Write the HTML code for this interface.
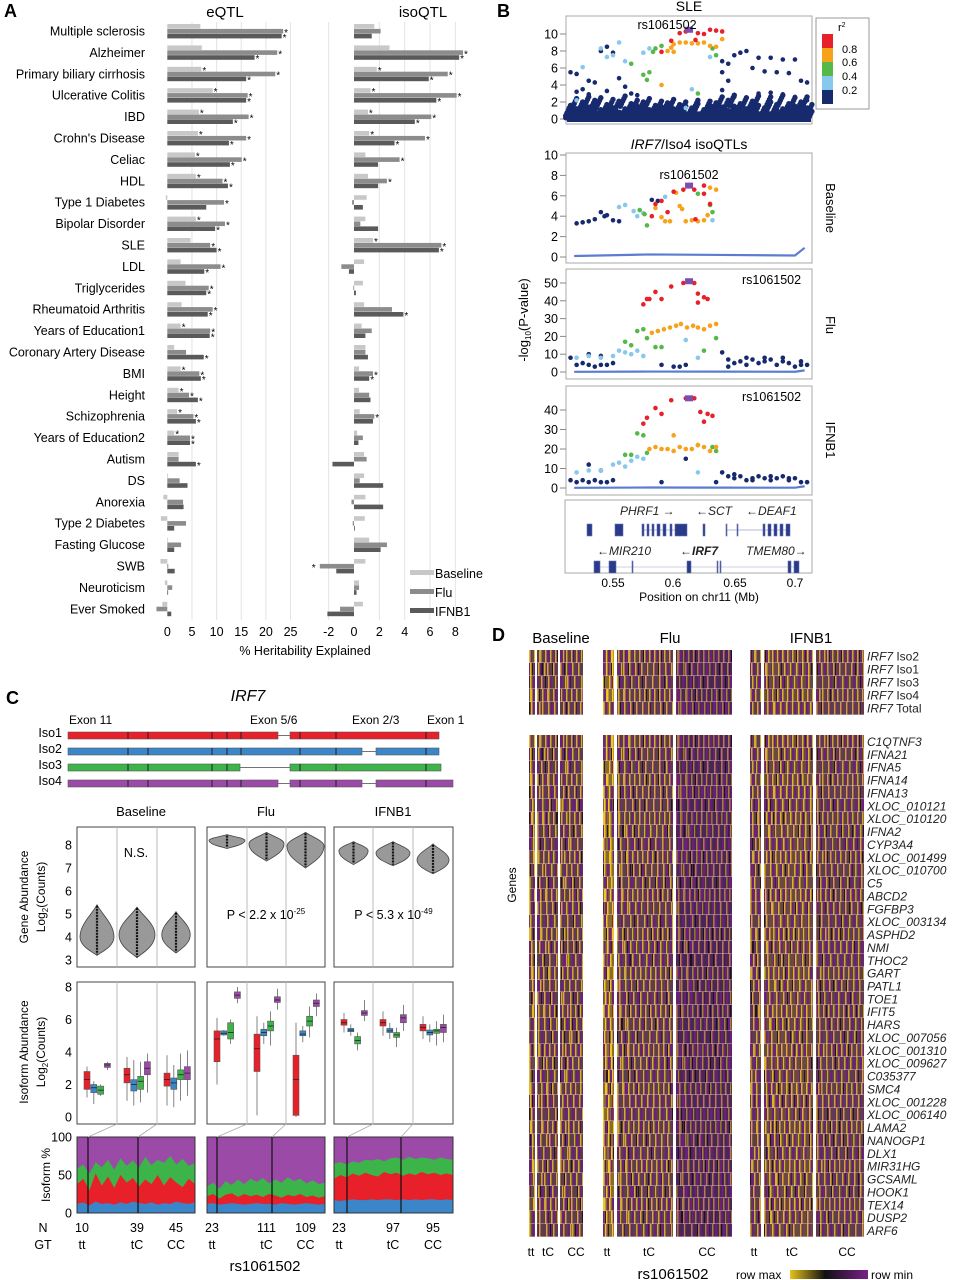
<!DOCTYPE html>
<html><head><meta charset="utf-8">
<style>
html,body{margin:0;padding:0;background:#fff;}
#wrap{position:relative;width:956px;height:1280px;overflow:hidden;font-family:"Liberation Sans",sans-serif;}
svg{position:absolute;left:0;top:0;}
.hm{position:absolute;}
.hrow{position:absolute;left:0;right:0;border-bottom:1px solid rgba(220,200,200,0.45);box-sizing:border-box;}
</style></head>
<body>
<div id="wrap">
<svg id="s" width="956" height="1280" viewBox="0 0 956 1280" font-family="Liberation Sans, sans-serif">
<text x="4" y="17" font-size="18" font-weight="bold">A</text>
<text x="225" y="17" font-size="15" text-anchor="middle">eQTL</text>
<text x="423" y="17" font-size="15" text-anchor="middle">isoQTL</text>
<text x="305" y="655" font-size="12.5" text-anchor="middle">% Heritability Explained</text>
<g id="gA"></g>
<g font-size="12.5">
<rect x="410" y="570" width="24" height="5" fill="#c8c8c8"/>
<text x="435" y="578">Baseline</text>
<rect x="410" y="589" width="24" height="5" fill="#8c8c8c"/>
<text x="435" y="597">Flu</text>
<rect x="410" y="608" width="24" height="5" fill="#5a5a5a"/>
<text x="435" y="616">IFNB1</text>
</g>

<text x="497" y="17" font-size="18" font-weight="bold">B</text>
<text x="689" y="11" font-size="14" text-anchor="middle">SLE</text>
<text x="689" y="149" font-size="14" text-anchor="middle"><tspan font-style="italic">IRF7</tspan>/Iso4 isoQTLs</text>
<text transform="translate(528,320) rotate(-90)" font-size="13" text-anchor="middle">-log<tspan font-size="8" dy="3">10</tspan><tspan dy="-3">(P-value)</tspan></text>
<text transform="translate(826,208) rotate(90)" font-size="13" text-anchor="middle">Baseline</text>
<text transform="translate(826,325) rotate(90)" font-size="13" text-anchor="middle">Flu</text>
<text transform="translate(826,440) rotate(90)" font-size="13" text-anchor="middle">IFNB1</text>
<g id="gB"></g>
<g>
<rect x="816" y="18" width="53" height="91" fill="#fff" stroke="#999"/>
<text x="838" y="31" font-size="11">r<tspan font-size="7" dy="-4">2</tspan></text>
<rect x="822" y="34" width="11" height="14" fill="#e8202a"/>
<rect x="822" y="48" width="11" height="14" fill="#f7a21b"/>
<rect x="822" y="62" width="11" height="14" fill="#55b848"/>
<rect x="822" y="76" width="11" height="14" fill="#87c8ec"/>
<rect x="822" y="90" width="11" height="14" fill="#172a6e"/>
<g font-size="11"><text x="842" y="53">0.8</text><text x="842" y="66">0.6</text><text x="842" y="80">0.4</text><text x="842" y="94">0.2</text></g>
</g>
<g>
<rect x="565" y="500" width="247" height="73" fill="none" stroke="#aaa"/>
<g font-size="12" font-style="italic" fill="#222">
<text x="620" y="515">PHRF1 →</text>
<text x="696" y="515">←SCT</text>
<text x="746" y="515">←DEAF1</text>
<text x="597" y="555">←MIR210</text>
<text x="680" y="555" font-weight="bold">←IRF7</text>
<text x="746" y="555">TMEM80→</text>
</g>
<g id="gExon" fill="#2a3a8a" stroke="#6a74b0" stroke-width="0.6"></g>
</g>
<g font-size="12" text-anchor="middle">
<text x="613" y="587">0.55</text>
<text x="673" y="587">0.6</text>
<text x="735" y="587">0.65</text>
<text x="795" y="587">0.7</text>
<text x="699" y="601" font-size="12">Position on chr11 (Mb)</text>
</g>

<text x="6" y="704" font-size="18" font-weight="bold">C</text>
<text x="248" y="701" font-size="16" font-style="italic" text-anchor="middle">IRF7</text>
<g font-size="12">
<text x="69" y="724">Exon 11</text>
<text x="250" y="724">Exon 5/6</text>
<text x="352" y="724">Exon 2/3</text>
<text x="427" y="724">Exon 1</text>
</g>
<g font-size="12.5" text-anchor="end">
<text x="62" y="737">Iso1</text>
<text x="62" y="753">Iso2</text>
<text x="62" y="769">Iso3</text>
<text x="62" y="785">Iso4</text>
</g>
<g id="gIso"></g>
<g font-size="13" text-anchor="middle">
<text x="141" y="816">Baseline</text>
<text x="266" y="816">Flu</text>
<text x="393" y="816">IFNB1</text>
</g>
<text transform="translate(28,897) rotate(-90)" font-size="12" text-anchor="middle">Gene Abundance</text>
<text transform="translate(45,897) rotate(-90)" font-size="12" text-anchor="middle">Log<tspan font-size="8" dy="3">2</tspan><tspan dy="-3">(Counts)</tspan></text>
<text transform="translate(28,1052) rotate(-90)" font-size="12" text-anchor="middle">Isoform Abundance</text>
<text transform="translate(45,1052) rotate(-90)" font-size="12" text-anchor="middle">Log<tspan font-size="8" dy="3">2</tspan><tspan dy="-3">(Counts)</tspan></text>
<text transform="translate(50,1175) rotate(-90)" font-size="12" text-anchor="middle">Isoform %</text>
<g id="gC"></g>
<g font-size="12.5" text-anchor="middle">
<text x="43" y="1232">N</text>
<text x="43" y="1249">GT</text>
</g>
<g id="gN" font-size="12.5" text-anchor="middle"></g>
<text x="265" y="1271" font-size="15" text-anchor="middle">rs1061502</text>

<text x="492" y="641" font-size="18" font-weight="bold">D</text>
<g font-size="15" text-anchor="middle">
<text x="561" y="643">Baseline</text>
<text x="670" y="643">Flu</text>
<text x="811" y="643">IFNB1</text>
</g>
<text transform="translate(516,885) rotate(-90)" font-size="12" text-anchor="middle">Genes</text>
<g id="gD" font-size="11.5" font-style="italic" fill="#222"></g>
<g font-size="12" text-anchor="middle" id="gDgt"></g>
<text x="673" y="1279" font-size="15" text-anchor="middle">rs1061502</text>
<defs><linearGradient id="rowg" x1="0" x2="1"><stop offset="0" stop-color="#e8c21a"/><stop offset="0.45" stop-color="#111"/><stop offset="1" stop-color="#7a1f8a"/></linearGradient></defs>
<text x="736" y="1279" font-size="12">row max</text>
<rect x="790" y="1270" width="78" height="9" fill="url(#rowg)"/>
<text x="871" y="1279" font-size="12">row min</text>
</svg>
<div id="heat"></div>
</div>

<script>
const NS='http://www.w3.org/2000/svg';
function mk(parent,tag,attrs){const e=document.createElementNS(NS,tag);for(const k in attrs)e.setAttribute(k,attrs[k]);parent.appendChild(e);return e;}

const traits=["Multiple sclerosis","Alzheimer","Primary biliary cirrhosis","Ulcerative Colitis","IBD","Crohn's Disease","Celiac","HDL","Type 1 Diabetes","Bipolar Disorder","SLE","LDL","Triglycerides","Rheumatoid Arthritis","Years of Education1","Coronary Artery Disease","BMI","Height","Schizophrenia","Years of Education2","Autism","DS","Anorexia","Type 2 Diabetes","Fasting Glucose","SWB","Neuroticism","Ever Smoked"];
const eqtlBaseline=[6.7,7.0,6.9,9.2,6.4,6.2,5.6,5.8,-0.3,5.8,4.7,2.7,3.7,2.9,2.7,1.4,2.7,2.3,2.0,1.4,2.3,0.1,-0.8,-1.3,0.1,-1.4,-0.5,-1.0];
const eqtlFlu=[23.5,22.3,21.9,16.3,16.5,16.0,15.1,11.2,11.5,11.7,8.7,10.8,8.4,9.2,8.7,3.8,6.5,4.4,5.3,4.6,2.3,2.5,3.2,3.8,2.8,0.2,1.0,-2.2];
const eqtlIfnb1=[23.2,17.7,16.0,16.0,13.3,12.5,12.7,12.3,7.9,9.7,10.0,7.5,7.9,8.2,8.6,7.4,6.8,6.2,5.8,4.6,5.8,4.1,3.3,1.4,1.4,1.5,0.1,0.8];
const isoBaseline=[1.6,2.8,1.8,1.3,1.1,1.2,0.9,1.1,1.0,0.9,1.5,0.8,0.7,0.8,0.6,0.9,0.4,0.4,0.45,0.25,0.8,0.8,0.9,0.85,1.2,0.9,0.4,0.7];
const isoFlu=[2.1,8.6,7.4,8.1,6.1,5.6,3.6,2.6,-0.15,0.5,6.9,-1.0,-0.05,3.0,1.4,0.9,1.5,1.2,1.6,0.7,1.0,0.45,-0.2,-0.1,2.6,-2.7,0.4,-1.1];
const isoIfnb1=[1.4,8.3,5.9,6.5,4.8,3.2,1.9,1.9,0.7,1.9,6.7,-0.4,0.15,3.9,0.9,1.1,1.2,1.3,1.5,0.35,-1.7,2.3,2.3,0.0,2.1,-1.4,0.2,-2.1];
const eqtlStarB=[0,0,1,1,1,1,1,1,0,1,0,0,0,0,1,0,1,1,1,1,0,0,0,0,0,0,0,0];
const eqtlStarF=[1,1,1,1,1,1,1,1,1,1,1,1,1,1,1,0,1,1,1,1,0,0,0,0,0,0,0,0];
const eqtlStarI=[1,1,1,1,1,1,1,1,0,1,1,1,1,1,1,1,1,1,1,1,1,0,0,0,0,0,0,0];
const isoStarB=[0,0,1,1,1,1,0,0,0,0,1,0,0,0,0,0,0,0,0,0,0,0,0,0,0,0,0,0];
const isoStarF=[0,1,1,1,1,1,1,1,0,0,1,0,0,0,0,0,1,0,1,0,0,0,0,0,0,1,0,0];
const isoStarI=[0,1,1,1,1,1,0,0,0,0,1,0,0,1,0,0,1,0,0,0,0,0,0,0,0,0,0,0];
const eTicks=[0,5,10,15,20,25];
const iTicks=[-2,0,2,4,6,8];

const xE=v=>167.3+v*4.93, xI=v=>354+v*12.67, rowY=i=>31+i*21.4;
(function(){
  const g=document.getElementById('gA');
  eTicks.forEach(t=>{ if(t>0){const l=mk(g,'line',{x1:xE(t),x2:xE(t),y1:22,y2:620,stroke:'#e4e4e4','stroke-width':1});}
    const tx=mk(g,'text',{x:xE(t),y:636,'font-size':12.5,'text-anchor':'middle'});tx.textContent=t;});
  iTicks.forEach(t=>{ if(t!==0){const l=mk(g,'line',{x1:xI(t),x2:xI(t),y1:22,y2:620,stroke:'#e4e4e4','stroke-width':1});}
    const tx=mk(g,'text',{x:xI(t),y:636,'font-size':12.5,'text-anchor':'middle'});tx.textContent=t;});
  const cols=['#c8c8c8','#8c8c8c','#5a5a5a'];
  const eS=[eqtlBaseline,eqtlFlu,eqtlIfnb1], iS=[isoBaseline,isoFlu,isoIfnb1];
  const eSt=[eqtlStarB,eqtlStarF,eqtlStarI], iSt=[isoStarB,isoStarF,isoStarI];
  traits.forEach((t,i)=>{
    const yc=rowY(i);
    const lb=mk(g,'text',{x:145,y:yc+4.5,'font-size':12.5,'text-anchor':'end'});lb.textContent=t;
    
    for(let k=0;k<3;k++){
      const y=yc-7+k*4.9;
      [[eS,eSt,xE,'eqtl'],[iS,iSt,xI,'isoqtl']].forEach(([S,St,X,nm])=>{
        const v=S[k][i], x0=X(0), x1=X(v);
        const r=mk(g,'rect',{x:Math.min(x0,x1),y:y,width:Math.max(0.8,Math.abs(x1-x0)),height:4.6,fill:cols[k]});
        
        if(St[k][i]){const s=mk(g,'text',{x:v>=0?x1+1:x1-8,y:y+7,'font-size':10});s.textContent='*';
          }
      });
    }
  });
})();

const r2Colors=['#172a6e','#87c8ec','#55b848','#f7a21b','#e8202a'];
const sleBandPos=[0.513,0.518,0.523,0.528,0.533,0.538,0.543,0.548,0.553,0.558,0.563,0.568,0.573,0.578,0.583,0.588,0.593,0.598,0.603,0.608,0.613,0.618,0.623,0.628,0.633,0.638,0.643,0.648,0.653,0.658,0.663,0.668,0.673,0.678,0.683,0.688,0.693,0.698,0.703,0.708,0.712];
const sleBandVal1=[1.0,0.6,1.4,0.8,1.6,0.5,1.1,0.7,1.5,0.6,1.2,0.9,1.4,0.5,1.0,0.8,1.3,0.6,1.1,0.9,0.7,1.2,0.5,1.0,1.3,0.8,1.6,0.9,1.2,0.6,1.5,1.0,0.7,1.4,1.1,0.6,1.2,0.9,1.4,0.7,1.1];
const sleBandVal2=[0.3,1.8,0.4,2.0,0.3,1.9,0.4,1.7,0.2,2.1,0.4,1.6,0.3,1.8,0.5,1.5,0.3,1.7,0.4,1.4,0.3,1.6,0.4,1.5,0.3,2.0,0.4,2.2,0.3,1.9,0.4,2.1,0.3,2.0,0.5,2.2,0.3,1.9,0.4,2.0,0.3];
const slePos=[0.515,0.52,0.525,0.53,0.535,0.54,0.545,0.55,0.555,0.56,0.565,0.57,0.53,0.52,0.545,0.64,0.645,0.65,0.655,0.66,0.665,0.67,0.675,0.68,0.685,0.69,0.695,0.7,0.705,0.71,0.64,0.645,0.65,0.66,0.67,0.68,0.69,0.7,0.71,0.64,
 0.54,0.545,0.55,0.555,0.56,0.575,0.58,0.52,0.525,0.615,0.61,0.63,
 0.565,0.575,0.578,0.58,0.583,0.585,0.59,0.632,0.635,0.62,
 0.59,0.595,0.6,0.6,0.605,0.61,0.615,0.62,0.625,0.63,0.635,0.64,0.598,
 0.59,0.598,0.605,0.61,0.62,0.625,0.63,0.635,0.64,0.618];
const sleVal=[5.5,5.3,3.5,4.5,4.3,8.0,8.5,7.8,4.8,3.8,3.0,2.8,2.9,3.2,3.3,6.8,6.5,7.5,7.8,8.0,6.0,7.2,5.6,7.2,5.5,7.0,5.4,7.0,4.5,4.3,5.5,4.5,2.6,2.5,3.0,3.1,2.9,2.6,2.2,3.4,
 8.3,7.3,7.5,9.0,6.8,7.8,8.3,2.2,6.1,3.5,1.3,7.3,
 6.5,5.2,4.6,5.5,7.9,8.3,8.6,8.3,7.5,3.0,
 4.0,8.0,7.9,8.8,9.0,9.0,8.9,8.9,9.0,8.6,8.5,9.4,8.4,
 7.9,9.2,10.1,10.3,10.1,10.0,10.5,10.4,10.3,9.3];
const sleCls=[0,0,0,0,0,0,0,0,0,0,0,0,0,0,0,0,0,0,0,0,0,0,0,0,0,0,0,0,0,0,0,0,0,0,0,0,0,0,0,0,
 1,1,1,1,1,1,1,1,1,1,1,1, 2,2,2,2,2,2,2,2,2,2, 3,3,3,3,3,3,3,3,3,3,3,3,3, 4,4,4,4,4,4,4,4,4,4];
const basePos=[0.52,0.525,0.53,0.535,0.54,0.543,0.545,0.55,0.555,0.582,0.587, 0.555,0.56,0.567,0.57,0.575,0.593,0.632, 0.572,0.576,0.578,0.62,0.63,0.632,
 0.585,0.59,0.593,0.597,0.602,0.605,0.607,0.61,0.615,0.62,0.625,0.628,0.635,0.63, 0.582,0.585,0.59,0.595,0.6,0.608,0.617,0.625,0.63,0.618,0.625];
const baseVal=[3.3,3.4,3.5,3.7,4.4,4.0,4.1,3.6,3.5,5.6,5.5, 4.9,5.1,4.5,4.0,4.3,5.9,3.6, 4.6,4.2,3.1,6.2,5.1,4.4,
 4.8,3.9,3.5,3.5,6.3,5.0,4.7,3.5,3.6,3.5,3.6,4.1,6.6,6.8, 4.0,5.2,5.5,4.4,6.4,6.6,6.6,7.0,5.2,3.7,6.2];
const baseCls=[0,0,0,0,0,0,0,0,0,0,0, 1,1,1,1,1,1,1, 2,2,2,2,2,2, 3,3,3,3,3,3,3,3,3,3,3,3,3,3, 4,4,4,4,4,4,4,4,4,4,4];
const fluPos=[0.515,0.52,0.525,0.53,0.535,0.54,0.545,0.55,0.53,0.54,0.59,0.6,0.605,0.61,0.64,0.645,0.65,0.655,0.66,0.665,0.67,0.675,0.68,0.685,0.69,0.695,0.7,0.705,0.71,0.645,0.66,0.675,0.69,0.705,
 0.52,0.53,0.54,0.55,0.555,0.56,0.565,0.57,0.575,0.61,0.62,
 0.57,0.575,0.578,0.56,0.565,0.585,0.59,0.625,0.635,
 0.582,0.587,0.592,0.597,0.602,0.606,0.611,0.616,0.62,0.625,0.63,0.635,
 0.575,0.578,0.58,0.585,0.59,0.598,0.608,0.613,0.617,0.62,0.625,0.628,0.62];
const fluVal=[8,4,5,4,3,4,4,5,10,9,4,3,3,4,11,7,5,6,4,7,5,6,7,4,6,5,3,6,4,3,8,8,8,4,
 8,9,8,9,12,11,10,12,9,18,8,
 23,24,19,17,15,14,14,12,19,
 22,23,24,25,26,27,25,26,25,24,26,27,
 38,41,41,45,41,48,50,51,50,44,42,41,39];
const fluCls=[0,0,0,0,0,0,0,0,0,0,0,0,0,0,0,0,0,0,0,0,0,0,0,0,0,0,0,0,0,0,0,0,0,0, 1,1,1,1,1,1,1,1,1,1,1, 2,2,2,2,2,2,2,2,2, 3,3,3,3,3,3,3,3,3,3,3,3, 4,4,4,4,4,4,4,4,4,4,4,4,4];
const ifnPos=[0.515,0.52,0.525,0.53,0.535,0.54,0.545,0.55,0.53,0.54,0.59,0.61,0.635,0.64,0.645,0.65,0.655,0.66,0.665,0.67,0.675,0.68,0.685,0.69,0.695,0.7,0.705,0.71,0.65,0.665,0.68,0.695,
 0.52,0.53,0.54,0.55,0.555,0.56,0.565,0.57,0.575,0.62,
 0.57,0.575,0.578,0.56,0.565,0.62,0.632,0.635,
 0.58,0.585,0.59,0.595,0.6,0.605,0.61,0.615,0.62,0.625,0.63,0.635,0.6,
 0.575,0.578,0.585,0.59,0.598,0.61,0.613,0.617,0.622,0.625,0.628,0.632];
const ifnVal=[4,3,4,3,4,3,3,4,12,9,3,15,3,8,6,5,6,4,5,6,5,4,5,6,4,5,3,3,7,4,6,5,
 8,9,9,12,13,11,14,16,15,8,
 28,27,18,17,17,22,21,19,
 20,21,20,20,19,21,20,20,22,21,19,21,27,
 33,36,41,38,45,46,46,46,39,34,38,37];
const ifnCls=[0,0,0,0,0,0,0,0,0,0,0,0,0,0,0,0,0,0,0,0,0,0,0,0,0,0,0,0,0,0,0,0, 1,1,1,1,1,1,1,1,1,1, 2,2,2,2,2,2,2,2, 3,3,3,3,3,3,3,3,3,3,3,3,3, 4,4,4,4,4,4,4,4,4,4,4,4];
const sleTicks=[0,2,4,6,8,10], baseTicks=[0,2,4,6,8,10], fluTicks=[0,10,20,30,40,50], ifnTicks=[0,10,20,30,40];
const leadSnp=0.6127;
const xMb=mb=>613+(mb-0.55)*1213;

(function(){
  const g=document.getElementById('gB');
  const panels=[
    {n:'sle',top:16,bot:124,y0:119,ppu:8.5,ticks:sleTicks,band:true,pos:slePos,val:sleVal,cls:sleCls,lab:[667,29],anchor:'middle',thr:false},
    {n:'baseline',top:153,bot:263,y0:257,ppu:10.2,ticks:baseTicks,pos:basePos,val:baseVal,cls:baseCls,lab:[689,179],anchor:'middle',thr:true},
    {n:'flu',top:269,bot:379,y0:372,ppu:1.78,ticks:fluTicks,pos:fluPos,val:fluVal,cls:fluCls,lab:[742,284],anchor:'start',thr:true},
    {n:'ifnb1',top:386,bot:495,y0:488,ppu:1.95,ticks:ifnTicks,pos:ifnPos,val:ifnVal,cls:ifnCls,lab:[742,401],anchor:'start',thr:true}];
  panels.forEach(p=>{
    const b=mk(g,'rect',{x:566,y:p.top,width:246,height:p.bot-p.top,fill:'#fff',stroke:'#aaa'});
    
    const Y=v=>p.y0-v*p.ppu;
    p.ticks.forEach(t=>{const tx=mk(g,'text',{x:558,y:Y(t)+4.5,'font-size':12.5,'text-anchor':'end'});tx.textContent=t;
      
      mk(g,'line',{x1:560,x2:566,y1:Y(t),y2:Y(t),stroke:'#888'});});
    if(p.thr){const l=mk(g,'path',{d:`M${xMb(0.518)},${Y(0.1)} L${xMb(0.58)},${Y(0.25)} L${xMb(0.64)},${Y(0.2)} L${xMb(0.7)},${Y(0.15)} L${xMb(0.708)},${Y(0.9)}`,fill:'none',stroke:'#5b7ccf','stroke-width':2.2});
      }
    if(p.band){[sleBandVal1,sleBandVal2].forEach(arr=>arr.forEach((v,i)=>{
      for(let d=-2;d<=2;d++){const c=mk(g,'circle',{cx:xMb(sleBandPos[i])+d*1.2,cy:Y(Math.max(0.15,v+d*0.3)),r:2.7,fill:'#172a6e'});
      }}));
      const bb=mk(g,'rect',{x:567,y:Y(0.9),width:244,height:Y(0)-Y(0.9)+3,fill:'#172a6e'});
      }
    p.pos.forEach((mb,i)=>{const c=mk(g,'circle',{cx:xMb(mb),cy:Y(p.val[i]),r:2.3,fill:r2Colors[p.cls[i]]});
      });
    const peak=Math.max(...p.val);
    const d=mk(g,'rect',{x:xMb(leadSnp)-4,y:Y(peak)-3,width:8,height:6,fill:'#7a4fb0'});
    
    const lt=mk(g,'text',{x:p.lab[0],y:p.lab[1],'font-size':12.5,'text-anchor':p.anchor});lt.textContent='rs1061502';
    
  });
  const ge=document.getElementById('gExon');
  const topEx=[[587,592],[615,623],[642,644],[647,649],[652,654],[657,660],[663,666],[670,672],[675,687],[703,705],[726,727],[737,738],[763,765],[768,771],[774,777],[780,783],[786,790]];
  const botEx=[[594,600],[609,616],[632,633],[687,691],[717,718],[720,721],[788,791],[794,799]];
  mk(ge,'line',{x1:642,x2:687,y1:530,y2:530,stroke:'#6a74b0'});mk(ge,'line',{x1:726,x2:790,y1:530,y2:530,stroke:'#6a74b0'});
  mk(ge,'line',{x1:594,x2:799,y1:567,y2:567,stroke:'#9aa0c8'});
  topEx.forEach(e=>{const r=mk(ge,'rect',{x:e[0],y:524,width:e[1]-e[0],height:12});});
  botEx.forEach(e=>{const r=mk(ge,'rect',{x:e[0],y:561,width:e[1]-e[0],height:12});});
})();

const isoColors=['#e8202a','#3a86c8','#3cb44a','#9b4aa8'];
const isoNames=['Iso1','Iso2','Iso3','Iso4'];
const conditions=['Baseline','Flu','IFNB1'];
const genotypes=['tt','tC','CC'];
const sampleN=[[10,39,45],[23,111,109],[23,97,95]];
const violinMid=[[4.0,4.1,4.1],[8.2,8.05,7.95],[7.75,7.65,7.35]];
const violinMin=[[3.2,3.1,3.3],[7.85,7.3,7.0],[7.15,7.1,6.75]];
const violinMax=[[5.4,5.3,5.1],[8.45,8.55,8.55],[8.15,8.15,8.05]];
const violinWidth=[[0.85,0.9,0.75],[0.9,0.9,0.95],[0.75,0.85,0.8]];
const violinTicks=[3,4,5,6,7,8];
const pvalText=['N.S.','P < 2.2 x 10','P < 5.3 x 10'];
const pvalExp=['','-25','-49'];
const boxMed=[[[2.3,1.8,1.65,3.2],[2.6,2.0,2.2,3.0],[2.3,2.1,2.6,2.7]],[[4.8,5.15,5.2,7.5],[4.2,5.2,5.6,7.2],[2.3,5.1,5.9,7.0]],[[5.8,5.35,4.7,6.4],[5.8,5.3,5.05,6.1],[5.5,5.2,5.3,5.5]]];
const boxQ1=[[[1.7,1.5,1.4,3.05],[2.1,1.6,1.7,2.6],[1.9,1.7,2.3,2.3]],[[3.4,5.05,4.8,7.3],[2.8,5.0,5.3,7.05],[0.1,5.0,5.6,6.8]],[[5.65,5.25,4.5,6.25],[5.6,5.2,4.9,5.8],[5.3,5.05,5.15,5.2]]];
const boxQ3=[[[2.8,2.0,1.9,3.3],[3.0,2.3,2.5,3.4],[2.7,2.4,2.9,3.1]],[[5.3,5.3,5.8,7.7],[5.1,5.4,5.9,7.4],[3.8,5.3,6.2,7.2]],[[6.0,5.45,4.95,6.55],[6.0,5.45,5.2,6.3],[5.7,5.35,5.4,5.7]]];
const boxLo=[[[1.2,0.8,1.3,2.9],[1.0,0.7,0.9,1.5],[0.7,0.6,1.0,1.3]],[[2.0,5.0,4.5,7.0],[0.1,4.5,4.4,6.6],[0.0,4.6,4.9,6.2]],[[5.2,5.0,4.1,5.9],[5.0,4.8,4.3,5.3],[4.8,4.6,4.4,4.6]]];
const boxHi=[[[3.1,2.2,2.0,3.4],[3.7,3.5,3.4,3.9],[3.8,3.2,3.9,4.1]],[[6.1,5.35,6.0,8.0],[6.2,5.8,6.5,7.9],[5.8,5.6,6.8,7.6]],[[6.4,5.7,5.2,7.2],[6.5,5.8,5.5,6.9],[6.2,5.7,5.9,6.3]]];
const boxTicks=[0,2,4,6,8];
const stackBlue=[[12,14,10,15,12,13,11,14,12,15,13,12,14,11,13,12,15,13,12,14],[12,13,11,12,13,12,11,12,13,12,12,11,13,12,11,12,13,12,11,12],[17,16,17,18,17,17,18,17,18,18,17,18,17,18,17,18,18,17,18,17]];
const stackRed=[[38,45,30,52,36,48,33,50,40,46,35,44,38,50,36,47,40,34,45,38],[22,25,19,24,26,21,25,22,24,21,25,23,20,24,22,25,21,23,20,22],[45,50,47,52,49,53,50,48,54,51,53,49,52,50,54,51,53,50,52,50]];
const stackGreen=[[58,64,52,67,60,70,57,72,62,69,60,74,63,70,66,75,64,71,62,66],[35,40,32,42,37,44,38,45,41,46,39,44,40,47,42,45,39,43,38,40],[65,67,64,68,66,70,69,71,68,72,73,70,74,71,73,72,70,73,71,70]];
const panelsX=[[77,195],[207,325],[334,453]];
const genoSplit=[[117,157],[247,286],[373,413]];
const stackSplit=[[88,138],[217,272],[347,401]];

(function(){
  const gi=document.getElementById('gIso');
  const isoSegs=[[[68,278],[290,439]],[[68,362],[376,439]],[[68,240],[290,441]],[[68,278],[290,362],[376,453]]];
  const dividers=[128,148,212,227,241,300,336,426];
  isoSegs.forEach((segs,k)=>{
    const y=732+k*16;
    mk(gi,'line',{x1:segs[0][0],x2:segs[segs.length-1][1],y1:y+3.5,y2:y+3.5,stroke:'#444','stroke-width':0.8});
    segs.forEach(s=>{const r=mk(gi,'rect',{x:s[0],y:y,width:s[1]-s[0],height:7,fill:isoColors[k],stroke:'#555','stroke-width':0.6});
      
      dividers.forEach(d=>{if(d>s[0]+1&&d<s[1]-1)mk(gi,'line',{x1:d,x2:d,y1:y,y2:y+7,stroke:'#222','stroke-width':1});});});
  });
  const g=document.getElementById('gC');
  const yV=v=>845-(v-8)*23, yB=v=>1117-v*16.25;
  panelsX.forEach((px,c)=>{
    const [x0,x1]=px;
    const f1=mk(g,'rect',{x:x0,y:827,width:x1-x0,height:140,fill:'#fff',stroke:'#444'});
    
    const f2=mk(g,'rect',{x:x0,y:982,width:x1-x0,height:142,fill:'#fff',stroke:'#444'});
    
    genoSplit[c].forEach(sx=>{mk(g,'line',{x1:sx,x2:sx,y1:827,y2:967,stroke:'#bbb'});mk(g,'line',{x1:sx,x2:sx,y1:982,y2:1124,stroke:'#bbb'});});
    if(c===0){violinTicks.forEach(t=>{const tx=mk(g,'text',{x:72,y:yV(t)+4.5,'font-size':12.5,'text-anchor':'end'});tx.textContent=t;});
      boxTicks.forEach(t=>{const tx=mk(g,'text',{x:72,y:yB(t)+4.5,'font-size':12.5,'text-anchor':'end'});tx.textContent=t;});
      [0,50,100].forEach(t=>{const tx=mk(g,'text',{x:72,y:1213-t*0.76+4.5,'font-size':12.5,'text-anchor':'end'});tx.textContent=t;});}
    const edges=[x0,genoSplit[c][0],genoSplit[c][1],x1];
    for(let gt=0;gt<3;gt++){
      const cx=(edges[gt]+edges[gt+1])/2, hw=violinWidth[c][gt]*(edges[gt+1]-edges[gt])/2;
      const ym=yV(violinMid[c][gt]), yt=yV(violinMax[c][gt]), yb=yV(violinMin[c][gt]);
      const d=`M${cx},${yt} C${cx+hw*0.3},${yt+(ym-yt)*0.3} ${cx+hw},${ym-(ym-yt)*0.4} ${cx+hw},${ym} C${cx+hw},${ym+(yb-ym)*0.5} ${cx+hw*0.3},${yb-(yb-ym)*0.2} ${cx},${yb} C${cx-hw*0.3},${yb-(yb-ym)*0.2} ${cx-hw},${ym+(yb-ym)*0.5} ${cx-hw},${ym} C${cx-hw},${ym-(ym-yt)*0.4} ${cx-hw*0.3},${yt+(ym-yt)*0.3} ${cx},${yt}Z`;
      const v=mk(g,'path',{d:d,fill:'#999',stroke:'#444','stroke-width':0.8});
      
      const dl=mk(g,'line',{x1:cx,x2:cx,y1:yt+1,y2:yb-1,stroke:'#111','stroke-width':2.2,'stroke-dasharray':'2 1'});
      
      for(let k=0;k<4;k++){
        const bx=edges[gt]+10+k*6.8, w=6;
        const wl=mk(g,'line',{x1:bx,x2:bx,y1:yB(boxHi[c][gt][k]),y2:yB(boxLo[c][gt][k]),stroke:'#666','stroke-width':0.8});
        
        const r=mk(g,'rect',{x:bx-w/2,y:yB(boxQ3[c][gt][k]),width:w,height:Math.max(1,yB(boxQ1[c][gt][k])-yB(boxQ3[c][gt][k])),fill:isoColors[k],stroke:'#555','stroke-width':0.6});
        
        mk(g,'line',{x1:bx-w/2,x2:bx+w/2,y1:yB(boxMed[c][gt][k]),y2:yB(boxMed[c][gt][k]),stroke:'#222','stroke-width':0.8});
      }
      const nt=mk(document.getElementById('gN'),'text',{x:(gt===0?edges[0]+5:cx),y:1232});nt.textContent=sampleN[c][gt];
      
      const gtt=mk(document.getElementById('gN'),'text',{x:(gt===0?edges[0]+5:cx),y:1249});gtt.textContent=genotypes[gt];
      
    }
    const pt=mk(g,'text',{x:(x0+x1)/2,y:c===0?857:919,'font-size':12.5,'text-anchor':'middle'});
    pt.textContent=pvalText[c];if(pvalExp[c]){const ts=document.createElementNS(NS,'tspan');ts.setAttribute('font-size','8');ts.setAttribute('dy','-5');ts.textContent=pvalExp[c];pt.appendChild(ts);}
    
    const sy=v=>1213-v*0.76, n=stackBlue[c].length, sx=i=>x0+(x1-x0)*i/(n-1);
    const top=mk(g,'rect',{x:x0,y:1137,width:x1-x0,height:76,fill:'#9b4aa8'});
    
    const poly=(arr,col,nm)=>{let d=`M${x0},1213`;arr.forEach((v,i)=>{d+=` L${sx(i)},${sy(v)}`;});d+=` L${x1},1213Z`;
      const p=mk(g,'path',{d:d,fill:col});};
    poly(stackGreen[c],'#3cb44a','iso3-area');poly(stackRed[c],'#e8202a','iso1-area');poly(stackBlue[c],'#3a86c8','iso2-area');
    mk(g,'rect',{x:x0,y:1137,width:x1-x0,height:76,fill:'none',stroke:'#333'});
    stackSplit[c].forEach((s,j)=>{mk(g,'line',{x1:s,x2:s,y1:1137,y2:1213,stroke:'#111','stroke-width':1.2});
      mk(g,'line',{x1:s,x2:genoSplit[c][j],y1:1137,y2:1124,stroke:'#aaa','stroke-width':0.8});});
  });
})();

const heatGenes=["C1QTNF3","IFNA21","IFNA5","IFNA14","IFNA13","XLOC_010121","XLOC_010120","IFNA2","CYP3A4","XLOC_001499","XLOC_010700","C5","ABCD2","FGFBP3","XLOC_003134","ASPHD2","NMI","THOC2","GART","PATL1","TOE1","IFIT5","HARS","XLOC_007056","XLOC_001310","XLOC_009627","C035377","SMC4","XLOC_001228","XLOC_006140","LAMA2","NANOGP1","DLX1","MIR31HG","GCSAML","HOOK1","TEX14","DUSP2","ARF6"];
const irfRows=["Iso2","Iso1","Iso3","Iso4","Total"];
(function(){
  const g=document.getElementById('gD');
  irfRows.forEach((r,i)=>{const t=mk(g,'text',{x:867,y:656+i*13+4.5,'font-size':12});t.innerHTML='<tspan font-style="italic">IRF7</tspan><tspan font-style="normal"> '+r+'</tspan>';
    });
  const rh=502/heatGenes.length;
  heatGenes.forEach((n,i)=>{const t=mk(g,'text',{x:867,y:735+rh*i+rh/2+4.5,'font-size':12});t.textContent=n;
    });
  const gg=document.getElementById('gDgt');
  [[531,'tt'],[548,'tC'],[576,'CC'],[607,'tt'],[649,'tC'],[707,'CC'],[754,'tt'],[792,'tC'],[847,'CC']].forEach(a=>{
    const t=mk(gg,'text',{x:a[0],y:1256});t.textContent=a[1];});
  const heat=document.getElementById('heat');
  const blocks=[[529,535,'#6a4a40',0.9],[537,558,'#5e3d4a',0.8],[560,583,'#5e3d4a',0.8],[603,614,'#8a6a30',1.0],[617,673,'#5e3d4c',0.8],[676,732,'#4a2656',0.55],[750,761,'#5e3d4a',0.8],[764,813,'#6a4a40',0.85],[816,864,'#5e3d4c',0.75]];
  blocks.forEach((b,bi)=>{
    [[650,715,5],[735,1237,heatGenes.length]].forEach(([y0,y1,nr])=>{
      const d=document.createElement('div');d.className='hm';
      d.style.left=b[0]+'px';d.style.top=y0+'px';d.style.width=(b[1]-b[0])+'px';d.style.height=(y1-y0)+'px';
      
      
      const rh2=(y1-y0)/nr;
      for(let r=0;r<nr;r++){
        const row=document.createElement('div');row.className='hrow';
        row.style.top=(r*rh2)+'px';row.style.height=rh2+'px';
        const o1=(r*7+bi*3)%13,o2=(r*5+bi*11)%17,o3=(r*3+bi*2)%23;
        row.style.background=`repeating-linear-gradient(90deg, rgba(240,200,35,${b[3]}) 0 1.5px, transparent 1.5px ${5+(r%3)}px) ${o1}px 0,`+
          `repeating-linear-gradient(90deg, rgba(110,30,125,.9) 0 2.5px, transparent 2.5px ${6+(r%4)}px) ${o2}px 0,`+
          `repeating-linear-gradient(90deg, rgba(20,10,20,.8) 0 1.2px, transparent 1.2px ${9+(r%5)}px) ${o3}px 0, ${b[2]}`;
        
        
        d.appendChild(row);
      }
      heat.appendChild(d);
    });
  });
})();
</script>
</body></html>
